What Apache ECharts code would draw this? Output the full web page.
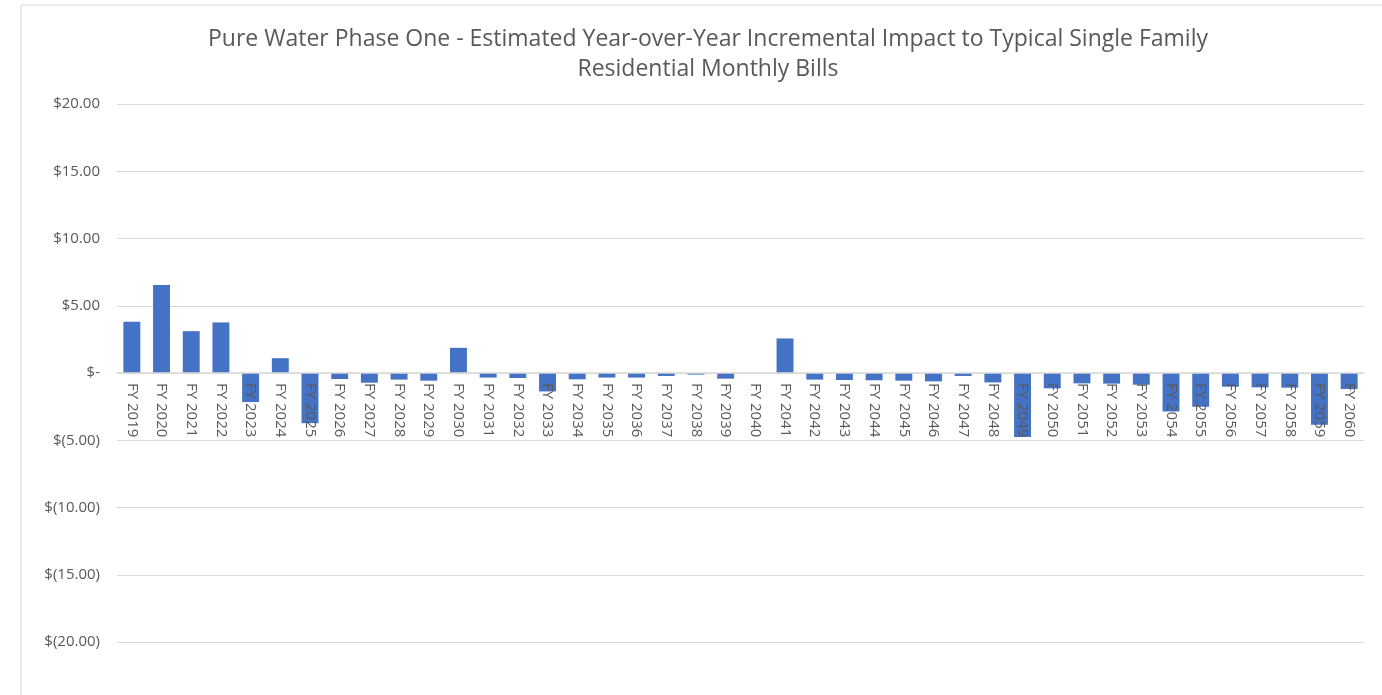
<!DOCTYPE html>
<html>
<head>
<meta charset="utf-8">
<title>Pure Water Phase One</title>
<script src="https://cdn.jsdelivr.net/npm/echarts@6/dist/echarts.min.js"></script>
<style>
  html, body { margin: 0; padding: 0; background: #fff; }
  #chart { width: 1382px; height: 695px; }
</style>
</head>
<body>
<div id="chart"></div>
<script>
// fiscal years on the x axis
var years = [
  "FY 2019", "FY 2020", "FY 2021", "FY 2022", "FY 2023", "FY 2024", "FY 2025",
  "FY 2026", "FY 2027", "FY 2028", "FY 2029", "FY 2030", "FY 2031", "FY 2032",
  "FY 2033", "FY 2034", "FY 2035", "FY 2036", "FY 2037", "FY 2038", "FY 2039",
  "FY 2040", "FY 2041", "FY 2042", "FY 2043", "FY 2044", "FY 2045", "FY 2046",
  "FY 2047", "FY 2048", "FY 2049", "FY 2050", "FY 2051", "FY 2052", "FY 2053",
  "FY 2054", "FY 2055", "FY 2056", "FY 2057", "FY 2058", "FY 2059", "FY 2060"
];
// year-over-year change of the monthly bill, $
var impact = [
  3.81, 6.54, 3.11, 3.76, -2.16, 1.10, -3.73,
  -0.45, -0.72, -0.49, -0.57, 1.87, -0.34, -0.37,
  -1.37, -0.47, -0.34, -0.34, -0.22, -0.12, -0.42,
  0, 2.57, -0.49, -0.52, -0.54, -0.57, -0.62,
  -0.22, -0.70, -4.75, -1.14, -0.77, -0.79, -0.87,
  -2.86, -2.51, -1.02, -1.07, -1.09, -3.85, -1.19
];
var yTicks = [-20, -15, -10, -5, 0, 5, 10, 15, 20];

var chart = echarts.init(document.getElementById("chart"));

function money(v) {
  if (v === 0) return "$-";
  var s = Math.abs(v).toFixed(2);
  return v < 0 ? "$(" + s + ")" : "$" + s;
}

var option = {
  backgroundColor: "#fff",
  textStyle: { fontFamily: "Open Sans" },
  title: {
    text: "Pure Water Phase One - Estimated Year-over-Year Incremental Impact to Typical Single Family\nResidential Monthly Bills",
    left: 703,
    textAlign: "center",
    top: 19,
    textStyle: {
      color: "#595959",
      fontSize: 23,
      fontWeight: "normal",
      lineHeight: 30,
      fontFamily: "Open Sans"
    }
  },
  // thin chart frame like the spreadsheet chart area
  graphic: [
    {
      type: "polyline",
      shape: { points: [[21, 700], [21, 5], [1390, 5]] },
      style: { stroke: "#d9d9d9", fill: null, lineWidth: 1 },
      silent: true
    }
  ],
  grid: {
    left: 117,
    right: 18,
    top: 104,
    bottom: 53,
    containLabel: false,
    outerBoundsMode: "none"
  },
  xAxis: {
    type: "category",
    data: years,
    z: 5,
    axisLine: {
      onZero: false,
      lineStyle: { color: "#d9d9d9", width: 1.5 }
    },
    axisTick: { show: false },
    axisLabel: {
      rotate: -90,
      interval: 0,
      color: "#595959",
      fontSize: 15,
      margin: 10,
      fontFamily: "Open Sans"
    }
  },
  yAxis: {
    type: "value",
    min: yTicks[0],
    max: yTicks[yTicks.length - 1],
    interval: 5,
    axisLine: { show: false },
    axisTick: { show: false },
    splitLine: { lineStyle: { color: "#d9d9d9", width: 1 } },
    axisLabel: {
      color: "#595959",
      fontSize: 15,
      margin: 17,
      formatter: money,
      fontFamily: "Open Sans"
    }
  },
  series: [
    {
      name: "Impact",
      type: "bar",
      data: impact,
      barWidth: "57%",
      z: 2,
      itemStyle: { color: "#4472c4" }
    }
  ]
};

chart.setOption(option);

// move the category axis up to the $0 line (labels sit just under it)
var zeroY = chart.convertToPixel({ yAxisIndex: 0 }, 0);
var bottomY = chart.convertToPixel({ yAxisIndex: 0 }, yTicks[0]);
chart.setOption({ xAxis: { offset: zeroY - bottomY } });
</script>
</body>
</html>
